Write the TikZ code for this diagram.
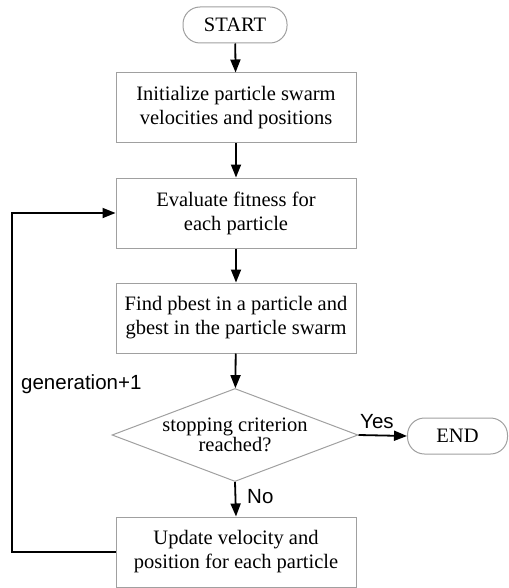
\documentclass[tikz,border=0pt]{standalone}
\usepackage{fontspec}
\setmainfont{Liberation Serif}
\newfontfamily\arialfont{Liberation Sans}
\usetikzlibrary{shapes.geometric,arrows.meta}
\definecolor{boxgray}{HTML}{A0A0A0}
\begin{document}
\begin{tikzpicture}[x=1pt,y=-1pt,
  box/.style={draw=boxgray, line width=1pt, minimum width=240pt, minimum height=70pt,
    align=center, inner sep=0pt, font=\fontsize{20.5}{24}\selectfont},
  term/.style={draw=boxgray, line width=1pt, rounded corners=17pt, minimum width=104pt,
    minimum height=36pt, inner sep=0pt, font=\fontsize{20.5}{24}\selectfont},
  dec/.style={diamond, draw=boxgray, line width=1pt, minimum width=246pt,
    minimum height=93pt, inner sep=0pt},
  lbl/.style={inner sep=0pt, font=\arialfont\fontsize{20.5}{22}\selectfont},
  arr/.style={line width=1.8pt, -{Triangle[length=13pt,width=10pt]}}]
\useasboundingbox (0,0) rectangle (508,588);
\node[term] (start) at (235,25) {START};
\node[box] (init) at (236,108) {Initialize particle swarm\\velocities and positions};
\node[box] (eval) at (236,213) {Evaluate fitness for\\each particle};
\node[box] (find) at (236,318) {Find pbest in a particle and\\gbest in the particle swarm};
\node[dec] (stop) at (235,435) {};
\node[align=center, inner sep=0pt, font=\fontsize{20.5}{20}\selectfont] (stoptext) at (235,435) {stopping criterion\\reached?};
\node[term, minimum width=100pt] (end) at (457.5,436) {END};
\node[box] (upd) at (236,552) {Update velocity and\\position for each particle};
\draw[arr] (start) -- (init);
\draw[arr] (init) -- (eval);
\draw[arr] (eval) -- (find);
\draw[arr] (find) -- (stop);
\draw[arr] (stop.east) -- (end.west);
\draw[arr] (stop.south) -- (upd.north);
\coordinate (loop) at (12,552);
\draw[arr] (upd.west) -- (loop) |- (eval.west);
\node[lbl, anchor=base west] (yes) at (360,428) {Yes};
\node[lbl, anchor=base west] (no) at (247,503) {No};
\node[lbl, anchor=base west] (gen) at (21,389) {generation+1};
\end{tikzpicture}
\end{document}
